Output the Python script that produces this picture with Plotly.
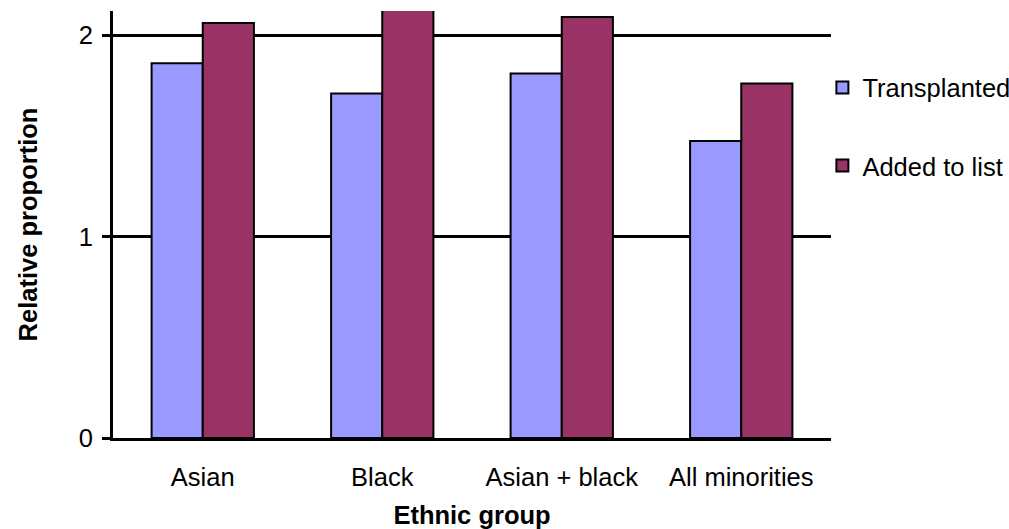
import plotly.graph_objects as go

# Relative proportion of ethnic minority patients, by group
groups = ["Asian", "Black", "Asian + black", "All minorities"]
transplanted = [1.86, 1.71, 1.81, 1.475]
added_to_list = [2.06, 2.30, 2.09, 1.76]
y_ticks = [0, 1, 2]

FONT = "Liberation Sans, Arial, sans-serif"
FS = 25.5

fig = go.Figure()
fig.add_trace(go.Bar(
    name="Transplanted", x=groups, y=transplanted, legendgroup="t",
    marker=dict(color="#9999FF", line=dict(color="black", width=2)),
))
fig.add_trace(go.Bar(
    name="Added to list", x=groups, y=added_to_list, legendgroup="a",
    marker=dict(color="#993366", line=dict(color="black", width=2)),
))

fig.update_layout(
    width=1009, height=529,
    margin=dict(l=113, r=178, t=11, b=91, autoexpand=False),
    paper_bgcolor="white", plot_bgcolor="white",
    font=dict(family=FONT, size=FS, color="black"),
    barmode="group", bargap=0.43, bargroupgap=0,
    legend=dict(
        x=0.988, xanchor="left", y=0.875, yanchor="top",
        font=dict(size=FS, color="black"),
        traceorder="grouped", tracegroupgap=42,
        bgcolor="rgba(0,0,0,0)",
    ),
    xaxis=dict(
        showline=True, linecolor="black", linewidth=3,
        ticks="", ticklabelstandoff=14,
        tickfont=dict(size=FS, color="black"),
        title=dict(text="<b>Ethnic group</b>", standoff=18,
                   font=dict(size=FS, color="black")),
    ),
    yaxis=dict(
        range=[0, 2.12], tickvals=y_ticks,
        showline=True, linecolor="black", linewidth=3,
        ticks="outside", ticklen=8, tickwidth=3, tickcolor="black",
        ticklabelstandoff=4,
        showgrid=True, gridcolor="black", gridwidth=3,
        zeroline=False,
        tickfont=dict(size=FS, color="black"),
        title=dict(text="<b>Relative proportion</b>", standoff=34,
                   font=dict(size=FS, color="black")),
    ),
)

fig.write_html("out.html")
